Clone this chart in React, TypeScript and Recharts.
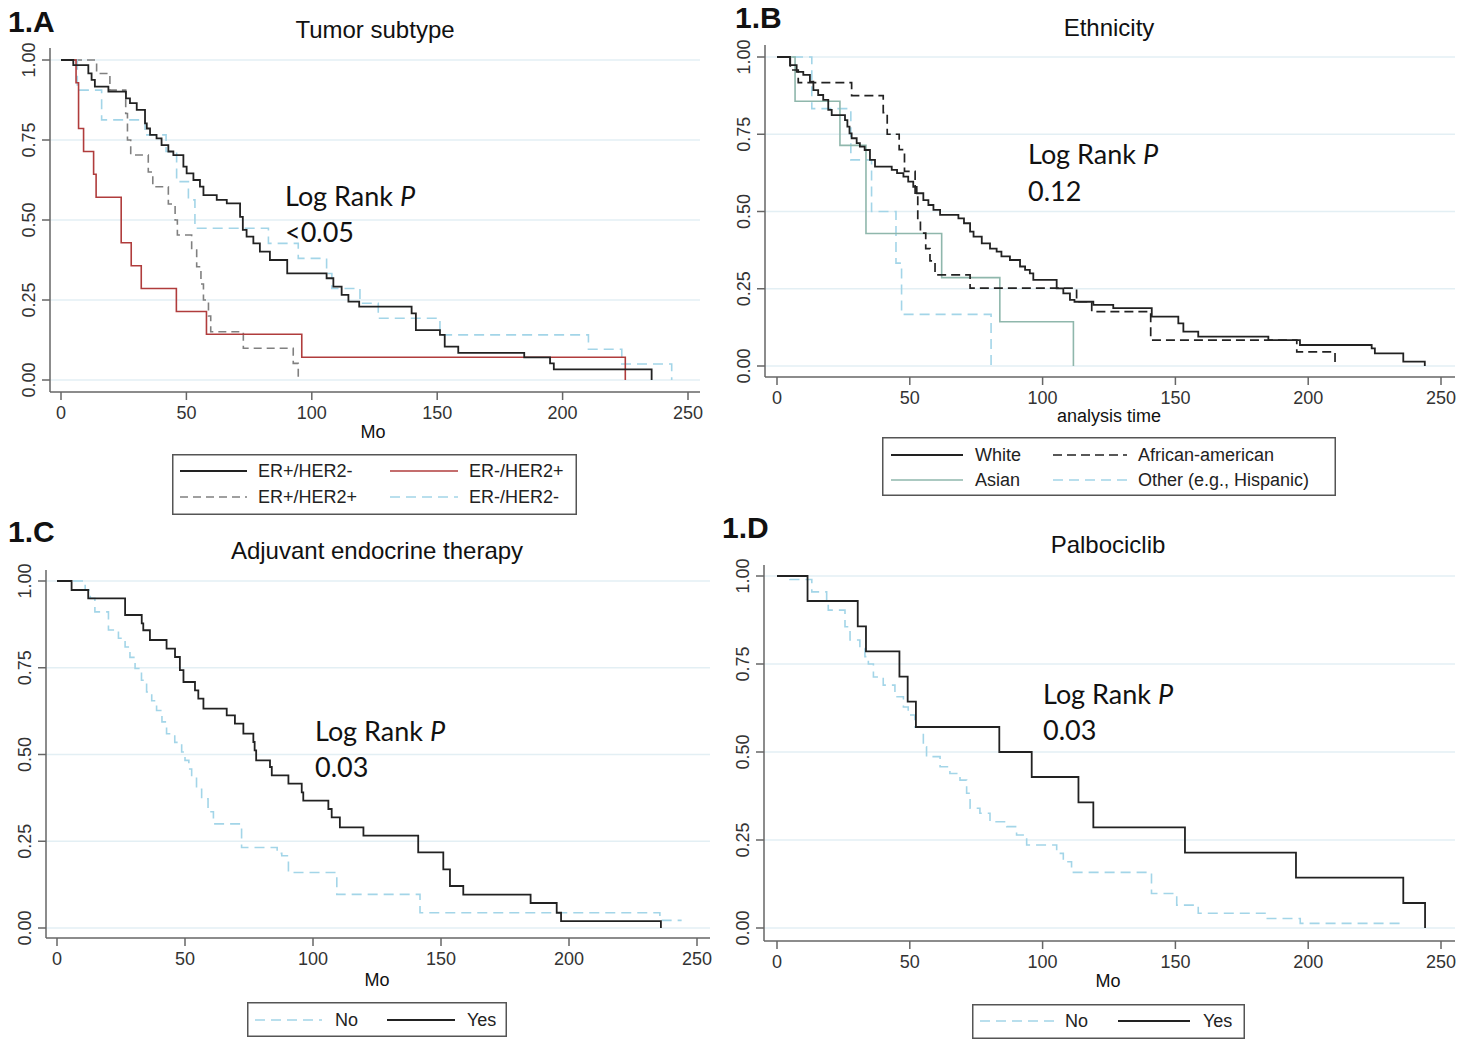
import React from "react";
import { LineChart, Line, XAxis, YAxis, ReferenceLine } from "recharts";

const FONT = '"Liberation Sans", Arial, sans-serif';
const NOTE_FONT = 'Lato, "Open Sans", sans-serif';

const xTicks = [0, 50, 100, 150, 200, 250];
const yTicks = [0, 0.25, 0.5, 0.75, 1];

// 1.A Tumor subtype
const erPosHer2NegT = [0, 4.9, 10.9, 12.2, 13.5, 18.9, 25.9, 27.5, 30.2, 33.5, 34.2, 35.5, 38.1, 40.1, 42.8, 44.8, 48.8, 50.1, 52.8, 55.4, 56.8, 62.1, 66.1, 71.4, 72.5, 74.0, 76.7, 79.3, 83.3, 90.2, 105.9, 108.6, 111.9, 114.6, 118.9, 139.8, 141.5, 151.1, 153.0, 158.4, 184.7, 195.0, 196.5, 235.5];
const erPosHer2NegS = [1, 0.984, 0.958, 0.938, 0.917, 0.901, 0.88, 0.865, 0.844, 0.802, 0.786, 0.766, 0.755, 0.734, 0.714, 0.703, 0.667, 0.646, 0.625, 0.604, 0.578, 0.563, 0.552, 0.51, 0.469, 0.448, 0.427, 0.401, 0.375, 0.333, 0.318, 0.292, 0.266, 0.245, 0.229, 0.208, 0.156, 0.141, 0.104, 0.085, 0.071, 0.052, 0.033, 0];
const erNegHer2PosT = [0, 6, 7, 9, 13, 14, 24, 28, 32, 46, 58, 96, 225];
const erNegHer2PosS = [1, 0.929, 0.786, 0.714, 0.643, 0.571, 0.429, 0.357, 0.286, 0.214, 0.143, 0.071, 0];
const erPosHer2PosT = [0, 14.2, 19.5, 25.8, 26.5, 27.8, 34.8, 36.6, 42.8, 45.5, 46.4, 52.1, 54.1, 55.8, 56.8, 58.8, 59.7, 72.7, 92.6, 94.6];
const erPosHer2PosS = [1, 0.958, 0.906, 0.833, 0.75, 0.703, 0.65, 0.604, 0.55, 0.5, 0.453, 0.406, 0.354, 0.3, 0.25, 0.2, 0.151, 0.099, 0.052, 0];
const erNegHer2NegT = [0, 6.5, 16.2, 33.5, 41.9, 46.1, 50.8, 53.4, 82.7, 94.6, 105.9, 108.0, 119.2, 126.5, 151.1, 210.3, 223.6, 243.5];
const erNegHer2NegS = [1, 0.906, 0.813, 0.766, 0.714, 0.62, 0.563, 0.474, 0.427, 0.38, 0.333, 0.286, 0.24, 0.193, 0.141, 0.096, 0.05, 0];

// 1.B Ethnicity
const whiteT = [0, 4.9, 7.4, 9.9, 12.4, 13.7, 15.5, 17.4, 19.3, 20.6, 25.6, 26.5, 27.3, 28.1, 30.0, 31.2, 33.0, 35.0, 36.9, 43.2, 45.2, 47.6, 49.4, 51.3, 52.6, 55.1, 57.0, 58.9, 61.4, 68.3, 70.4, 72.7, 74.0, 77.1, 80.2, 82.7, 84.5, 87.7, 91.5, 93.4, 95.2, 96.5, 105.3, 107.8, 110.3, 112.0, 119.1, 126.6, 141.1, 151.1, 153.0, 158.6, 185.0, 196.9, 223.9, 225.1, 235.8, 243.9];
const whiteS = [1, 0.974, 0.952, 0.942, 0.92, 0.893, 0.877, 0.861, 0.829, 0.812, 0.796, 0.775, 0.753, 0.737, 0.721, 0.71, 0.699, 0.667, 0.645, 0.635, 0.624, 0.613, 0.597, 0.58, 0.559, 0.537, 0.521, 0.505, 0.489, 0.478, 0.462, 0.435, 0.419, 0.397, 0.38, 0.37, 0.355, 0.343, 0.322, 0.311, 0.3, 0.279, 0.251, 0.235, 0.214, 0.208, 0.198, 0.187, 0.16, 0.138, 0.111, 0.095, 0.084, 0.068, 0.057, 0.041, 0.014, 0];
const africanAmericanT = [0, 5, 8, 28.1, 40, 41.5, 46, 48, 52, 53, 54, 56, 57.6, 59.5, 72.7, 112.8, 118.5, 140.7, 195.7, 210.1];
const africanAmericanS = [1, 0.958, 0.917, 0.875, 0.82, 0.75, 0.7, 0.63, 0.55, 0.47, 0.43, 0.38, 0.34, 0.295, 0.252, 0.208, 0.176, 0.084, 0.046, 0];
const asianT = [0, 6.8, 23.7, 33.5, 62, 83.9, 111.6];
const asianS = [1, 0.857, 0.714, 0.429, 0.286, 0.143, 0];
const otherT = [0, 13.1, 27.8, 35.6, 44.8, 46.9, 80.6];
const otherS = [1, 0.833, 0.667, 0.5, 0.333, 0.167, 0];

// 1.C Adjuvant endocrine therapy
const adjYesT = [0, 5.7, 12.2, 26.6, 33.1, 33.7, 36.3, 42.8, 46.1, 48.0, 49.4, 53.9, 55.2, 57.2, 66.3, 69.5, 72.8, 76.7, 77.2, 77.8, 83.2, 83.9, 90.4, 95.6, 96.2, 106.0, 107.3, 110.5, 119.7, 141.1, 150.9, 153.5, 158.7, 185.0, 195.2, 196.9, 235.9];
const adjYesS = [1, 0.974, 0.95, 0.902, 0.878, 0.858, 0.83, 0.805, 0.781, 0.743, 0.709, 0.685, 0.661, 0.632, 0.613, 0.589, 0.56, 0.536, 0.512, 0.483, 0.464, 0.44, 0.416, 0.391, 0.367, 0.343, 0.319, 0.29, 0.266, 0.218, 0.169, 0.121, 0.096, 0.072, 0.044, 0.02, 0];
const adjNoT = [0, 11, 13, 14.8, 20.1, 24, 26.6, 28.5, 30.5, 33, 35, 37, 38.9, 41, 42.8, 46, 48.7, 50, 51.5, 52.6, 54.5, 56.5, 59, 61.1, 72.1, 86, 87.8, 90.4, 109.3, 141.8, 235.5, 244];
const adjNoS = [1, 0.974, 0.95, 0.911, 0.859, 0.835, 0.81, 0.78, 0.748, 0.714, 0.68, 0.655, 0.627, 0.594, 0.56, 0.535, 0.507, 0.483, 0.458, 0.434, 0.4, 0.372, 0.335, 0.3, 0.232, 0.215, 0.208, 0.16, 0.097, 0.044, 0.022, 0.022];

// 1.D Palbociclib
const palboYesT = [0, 11.5, 30.4, 33.5, 46.1, 49.2, 52.3, 83.7, 95.9, 113.5, 119.1, 153.6, 195.4, 235.8, 244];
const palboYesS = [1, 0.929, 0.857, 0.786, 0.714, 0.643, 0.571, 0.5, 0.429, 0.357, 0.286, 0.214, 0.143, 0.071, 0];
const palboNoT = [0, 4.9, 13.1, 18.7, 19.3, 25.6, 27.5, 31.2, 33.1, 34.4, 36.3, 40, 44.4, 47.6, 49.4, 51.9, 55.1, 56.3, 61.4, 65.1, 68.9, 71.4, 72.7, 76.4, 80.2, 86.5, 90.2, 94, 105.3, 107.8, 110.9, 141, 150.5, 158.6, 184.3, 197, 236];
const palboNoS = [1, 0.99, 0.955, 0.927, 0.903, 0.856, 0.818, 0.795, 0.771, 0.75, 0.713, 0.69, 0.657, 0.628, 0.605, 0.571, 0.515, 0.487, 0.458, 0.439, 0.42, 0.383, 0.34, 0.326, 0.302, 0.288, 0.264, 0.236, 0.212, 0.188, 0.158, 0.098, 0.065, 0.042, 0.027, 0.013, 0.013];

const BLACK = "#222";
const RED = "#b03c3c";
const GREY = "#808080";
const SKY = "#a3d5e8";
const TEAL = "#8fb7ac";
const GRID = "#e3eff4";
const AXIS = { stroke: "#666", strokeWidth: 1.5 };

const steps = (t: number[], s: number[]) => t.map((v, i) => ({ t: v, s: s[i] }));

type Series = { name: string; t: number[]; s: number[]; color: string; dash?: string; width: number };

const solid = (name, t, s, color, width = 1.8): Series => ({ name, t, s, color, width });
const dashed = (name, t, s, color, dash = "9 5", width = 1.6): Series => ({ name, t, s, color, dash, width });

const panelA = {
  x0: 50, x1: 700, y0: 48, y1: 392, padL: 11, padR: 12, padT: 12, padB: 12,
  series: [
    dashed("ER+/HER2+", erPosHer2PosT, erPosHer2PosS, GREY, "8 5"),
    dashed("ER-/HER2-", erNegHer2NegT, erNegHer2NegS, SKY, "10 6"),
    solid("ER-/HER2+", erNegHer2PosT, erNegHer2PosS, RED, 1.6),
    solid("ER+/HER2-", erPosHer2NegT, erPosHer2NegS, BLACK),
  ],
};
const panelB = {
  x0: 765, x1: 1455, y0: 45, y1: 377, padL: 12, padR: 14, padT: 12, padB: 11,
  series: [
    dashed("Other (e.g., Hispanic)", otherT, otherS, SKY, "10 6"),
    solid("Asian", asianT, asianS, TEAL, 1.6),
    dashed("African-american", africanAmericanT, africanAmericanS, BLACK, "9 5", 1.7),
    solid("White", whiteT, whiteS, BLACK),
  ],
};
const panelC = {
  x0: 46, x1: 710, y0: 570, y1: 938, padL: 11, padR: 13, padT: 11, padB: 10,
  series: [
    dashed("No", adjNoT, adjNoS, SKY, "10 6"),
    solid("Yes", adjYesT, adjYesS, BLACK),
  ],
};
const panelD = {
  x0: 764, x1: 1455, y0: 565, y1: 941, padL: 13, padR: 14, padT: 11, padB: 13,
  series: [
    dashed("No", palboNoT, palboNoS, SKY, "10 6"),
    solid("Yes", palboYesT, palboYesS, BLACK),
  ],
};

function XTick({ x, y, payload }: any) {
  return (
    <text x={x} y={y} dy="0.71em" textAnchor="middle" fontSize={18} fontFamily={FONT} fill="#333">
      {payload.value}
    </text>
  );
}

function YTick({ x, y, payload }: any) {
  return (
    <text x={x} y={y} transform={`rotate(-90 ${x} ${y})`} textAnchor="middle" fontSize={18} fontFamily={FONT} fill="#333">
      {Number(payload.value).toFixed(2)}
    </text>
  );
}

function KMChart({ p }: any) {
  const YW = 60, MT = 10, MR = 10, XH = 40, MB = 10;
  const w = p.x1 - p.x0 + YW + MR;
  const h = p.y1 - p.y0 + MT + XH + MB;
  return (
    <>
      <div style={{ position: "absolute", left: p.x0 - YW, top: p.y0 - MT }}>
        <LineChart width={w} height={h} margin={{ top: MT, right: MR, bottom: MB, left: 0 }}>
          <XAxis
            type="number" dataKey="t" domain={[0, 250]} ticks={xTicks} interval={0}
            padding={{ left: p.padL, right: p.padR }} height={XH}
            tickSize={8} tickMargin={6} axisLine={AXIS} tickLine={AXIS} tick={<XTick />}
          />
          <YAxis
            type="number" domain={[0, 1]} ticks={yTicks} interval={0}
            padding={{ top: p.padT, bottom: p.padB }} width={YW}
            tickSize={8} tickMargin={7} axisLine={AXIS} tickLine={AXIS} tick={<YTick />}
          />
          {yTicks.map((v) => (
            <ReferenceLine key={v} y={v} stroke={GRID} strokeWidth={1.3} />
          ))}
          {p.series.map((s: Series) => (
            <Line
              key={s.name}
              data={steps(s.t, s.s)}
              dataKey="s"
              type="stepAfter"
              stroke={s.color}
              strokeWidth={s.width}
              strokeDasharray={s.dash}
              dot={false}
              activeDot={false}
              isAnimationActive={false}
            />
          ))}
        </LineChart>
      </div>
      {/* the plot region has no top border in the original */}
      <div style={{ position: "absolute", left: p.x0 + 1, top: p.y0 - MT - 1, width: p.x1 - p.x0 + MR, height: MT + 2, background: "#fff" }} />
    </>
  );
}

function LegendBox({ box, items }: any) {
  return (
    <svg style={{ position: "absolute", left: box.x, top: box.y }} width={box.w} height={box.h}>
      <rect x={0.75} y={0.75} width={box.w - 1.5} height={box.h - 1.5} fill="#fff" stroke="#555" strokeWidth={1.5} />
      {items.map((it: any) => (
        <g key={it.label}>
          <line x1={it.lx1 - box.x} x2={it.lx2 - box.x} y1={it.ry - box.y} y2={it.ry - box.y}
            stroke={it.s.color} strokeWidth={it.s.width} strokeDasharray={it.s.dash} />
          <text x={it.tx - box.x} y={it.ry - box.y} dominantBaseline="central" fontSize={18} fontFamily={FONT} fill="#222">
            {it.label}
          </text>
        </g>
      ))}
    </svg>
  );
}

const Label = ({ x, y, children, size = 18, bold = false, anchor = "center", font = FONT }: any) => (
  <div
    style={{
      position: "absolute", left: x, top: y, whiteSpace: "nowrap", lineHeight: 1,
      transform: anchor === "center" ? "translate(-50%, -50%)" : "translate(0, -50%)",
      fontFamily: font, fontSize: size, fontWeight: bold ? 700 : 400, color: "#111",
    }}
  >
    {children}
  </div>
);

const [aBlack, aRed, aGrey, aSky] = [panelA.series[3], panelA.series[2], panelA.series[0], panelA.series[1]];
const [bWhite, bAA, bAsian, bOther] = [panelB.series[3], panelB.series[2], panelB.series[1], panelB.series[0]];

export default function App() {
  return (
    <div style={{ position: "absolute", left: 0, top: 0, width: 1476, height: 1061, background: "#fff", overflow: "hidden" }}>
      <KMChart p={panelA} />
      <KMChart p={panelB} />
      <KMChart p={panelC} />
      <KMChart p={panelD} />

      <Label x={8} y={22} size={30} bold anchor="left">1.A</Label>
      <Label x={735} y={18} size={30} bold anchor="left">1.B</Label>
      <Label x={8} y={532} size={30} bold anchor="left">1.C</Label>
      <Label x={722} y={528} size={30} bold anchor="left">1.D</Label>

      <Label x={375} y={30} size={24}>Tumor subtype</Label>
      <Label x={1109} y={28} size={24}>Ethnicity</Label>
      <Label x={377} y={551} size={24}>Adjuvant endocrine therapy</Label>
      <Label x={1108} y={545} size={24}>Palbociclib</Label>

      <Label x={373} y={432} size={18}>Mo</Label>
      <Label x={1109} y={416} size={18}>analysis time</Label>
      <Label x={377} y={980} size={18}>Mo</Label>
      <Label x={1108} y={981} size={18}>Mo</Label>

      <Label x={285} y={195} size={27} anchor="left" font={NOTE_FONT}>Log Rank <i>P</i></Label>
      <Label x={285} y={231} size={27} anchor="left" font={NOTE_FONT}>{"<0.05"}</Label>
      <Label x={1028} y={153} size={27} anchor="left" font={NOTE_FONT}>Log Rank <i>P</i></Label>
      <Label x={1028} y={190} size={27} anchor="left" font={NOTE_FONT}>0.12</Label>
      <Label x={315} y={730} size={27} anchor="left" font={NOTE_FONT}>Log Rank <i>P</i></Label>
      <Label x={315} y={766} size={27} anchor="left" font={NOTE_FONT}>0.03</Label>
      <Label x={1043} y={693} size={27} anchor="left" font={NOTE_FONT}>Log Rank <i>P</i></Label>
      <Label x={1043} y={729} size={27} anchor="left" font={NOTE_FONT}>0.03</Label>

      <LegendBox
        box={{ x: 172, y: 454, w: 405, h: 61 }}
        items={[
          { label: "ER+/HER2-", s: aBlack, lx1: 180, lx2: 247, tx: 258, ry: 471 },
          { label: "ER-/HER2+", s: aRed, lx1: 390, lx2: 458, tx: 469, ry: 471 },
          { label: "ER+/HER2+", s: aGrey, lx1: 180, lx2: 247, tx: 258, ry: 497 },
          { label: "ER-/HER2-", s: aSky, lx1: 390, lx2: 458, tx: 469, ry: 497 },
        ]}
      />
      <LegendBox
        box={{ x: 882, y: 437, w: 454, h: 59 }}
        items={[
          { label: "White", s: bWhite, lx1: 891, lx2: 963, tx: 975, ry: 455 },
          { label: "African-american", s: bAA, lx1: 1053, lx2: 1127, tx: 1138, ry: 455 },
          { label: "Asian", s: bAsian, lx1: 891, lx2: 963, tx: 975, ry: 480 },
          { label: "Other (e.g., Hispanic)", s: bOther, lx1: 1053, lx2: 1127, tx: 1138, ry: 480 },
        ]}
      />
      <LegendBox
        box={{ x: 247, y: 1002, w: 260, h: 35 }}
        items={[
          { label: "No", s: panelC.series[0], lx1: 255, lx2: 322, tx: 335, ry: 1020 },
          { label: "Yes", s: panelC.series[1], lx1: 387, lx2: 455, tx: 467, ry: 1020 },
        ]}
      />
      <LegendBox
        box={{ x: 972, y: 1004, w: 273, h: 35 }}
        items={[
          { label: "No", s: panelD.series[0], lx1: 980, lx2: 1054, tx: 1065, ry: 1021 },
          { label: "Yes", s: panelD.series[1], lx1: 1118, lx2: 1190, tx: 1203, ry: 1021 },
        ]}
      />
    </div>
  );
}
